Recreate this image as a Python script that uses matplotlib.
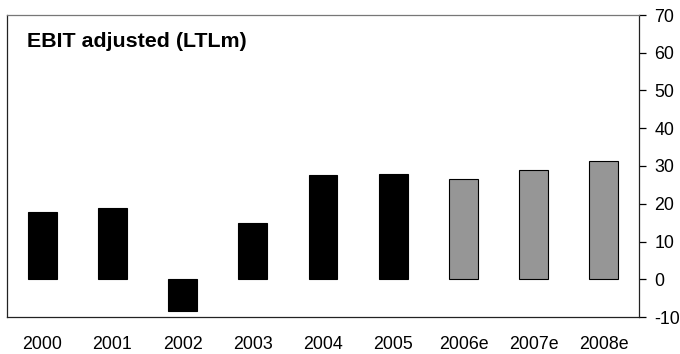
import matplotlib
matplotlib.use("Agg")
import matplotlib.pyplot as plt

plt.rcParams['font.family'] = ['Liberation Sans', 'DejaVu Sans']

years = ["2000", "2001", "2002", "2003", "2004", "2005", "2006e", "2007e", "2008e"]
ebit = [17.9, 18.8, -8.4, 15.0, 27.7, 27.9, 26.5, 29.0, 31.2]
is_estimate = [False, False, False, False, False, False, True, True, True]
y_ticks = [-10, 0, 10, 20, 30, 40, 50, 60, 70]

fig = plt.figure(figsize=(6.8, 3.54), dpi=100)
ax = fig.add_axes([7 / 680, 1 - 317 / 354, (639 - 7) / 680, (317 - 15) / 354])

x = list(range(len(years)))
colors = ["#969696" if e else "#000000" for e in is_estimate]
ax.bar(x, ebit, width=0.41, color=colors, edgecolor="#000000", linewidth=0.8, zorder=2)

ax.set_xlim(-0.5, len(years) - 0.5)
ax.set_ylim(-10, 70)
ax.set_yticks(y_ticks)
ax.set_yticklabels([str(t) for t in y_ticks])
ax.yaxis.tick_right()
ax.tick_params(axis='y', direction='out', length=5, width=0.9, color='black',
               labelsize=12.8, pad=6)
ax.set_xticks(x)
ax.set_xticklabels(years)
ax.tick_params(axis='x', length=0, labelsize=12.8, pad=14)

for side in ['left', 'bottom', 'right']:
    ax.spines[side].set_color('#222222')
    ax.spines[side].set_linewidth(0.9)
ax.spines['top'].set_color('#777777')
ax.spines['top'].set_linewidth(0.9)

ax.text(0.0316, 0.895, "EBIT adjusted (LTLm)", transform=ax.transAxes,
        fontsize=15.4, fontweight='bold', ha='left', va='baseline')

fig.savefig("out.png", dpi=100)
